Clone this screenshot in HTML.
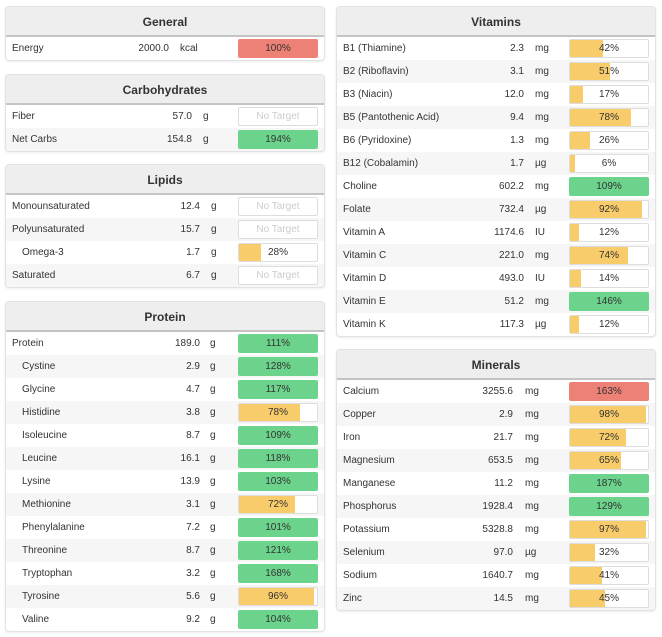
<!DOCTYPE html>
<html><head><meta charset="utf-8">
<style>
body{margin:0;background:#fff;width:662px;height:637px;position:relative;overflow:hidden;font-family:"Liberation Sans",sans-serif;font-size:10px;color:#333}
.panel{position:absolute;width:318px;border:1px solid #e2e2e2;border-radius:4px;box-shadow:0 1px 2px rgba(0,0,0,0.08);overflow:hidden;background:#fff}
.hdr{height:28px;background:#eeeeee;border-bottom:2px solid #c4c4c4;text-align:center;font-weight:bold;font-size:12px;line-height:30px;color:#333}
.row{position:relative;height:23px;line-height:23px}
.row.alt{background:#f6f6f6}
.lbl{position:absolute;top:0;left:6px}
.val{position:absolute;top:0;text-align:right;width:80px}
.unit{position:absolute;top:0}
.bar{position:absolute;top:2px;width:78px;height:17px;border:1px solid #ddd;border-radius:2px;background:#fff;overflow:hidden}
.fill{position:absolute;left:0;top:0;height:100%}
.pct{position:absolute;left:0;right:0;top:0;line-height:17px;text-align:center;color:#333}
.nt{color:#ccc}
</style></head><body>
<script>
const panels=[
 {name:'General',x:5,y:6,vr:163,ux:174,rows:[['Energy','2000.0','kcal',100,'r']]},
 {name:'Carbohydrates',x:5,y:74,vr:186,ux:197,rows:[['Fiber','57.0','g',null],['Net Carbs','154.8','g',194,'g']]},
 {name:'Lipids',x:5,y:164,vr:194,ux:205,rows:[['Monounsaturated','12.4','g',null],['Polyunsaturated','15.7','g',null],['  Omega-3','1.7','g',28,'y'],['Saturated','6.7','g',null]]},
 {name:'Protein',x:5,y:301,vr:194,ux:204,rows:[['Protein','189.0','g',111,'g'],['  Cystine','2.9','g',128,'g'],['  Glycine','4.7','g',117,'g'],['  Histidine','3.8','g',78,'y'],['  Isoleucine','8.7','g',109,'g'],['  Leucine','16.1','g',118,'g'],['  Lysine','13.9','g',103,'g'],['  Methionine','3.1','g',72,'y'],['  Phenylalanine','7.2','g',101,'g'],['  Threonine','8.7','g',121,'g'],['  Tryptophan','3.2','g',168,'g'],['  Tyrosine','5.6','g',96,'y'],['  Valine','9.2','g',104,'g']]},
 {name:'Vitamins',x:336,y:6,vr:187,ux:198,rows:[['B1 (Thiamine)','2.3','mg',42,'y'],['B2 (Riboflavin)','3.1','mg',51,'y'],['B3 (Niacin)','12.0','mg',17,'y'],['B5 (Pantothenic Acid)','9.4','mg',78,'y'],['B6 (Pyridoxine)','1.3','mg',26,'y'],['B12 (Cobalamin)','1.7','µg',6,'y'],['Choline','602.2','mg',109,'g'],['Folate','732.4','µg',92,'y'],['Vitamin A','1174.6','IU',12,'y'],['Vitamin C','221.0','mg',74,'y'],['Vitamin D','493.0','IU',14,'y'],['Vitamin E','51.2','mg',146,'g'],['Vitamin K','117.3','µg',12,'y']]},
 {name:'Minerals',x:336,y:349,vr:176,ux:188,rows:[['Calcium','3255.6','mg',163,'r'],['Copper','2.9','mg',98,'y'],['Iron','21.7','mg',72,'y'],['Magnesium','653.5','mg',65,'y'],['Manganese','11.2','mg',187,'g'],['Phosphorus','1928.4','mg',129,'g'],['Potassium','5328.8','mg',97,'y'],['Selenium','97.0','µg',32,'y'],['Sodium','1640.7','mg',41,'y'],['Zinc','14.5','mg',45,'y']]}
];
const colors={r:'#ee8176',g:'#6bd38b',y:'#f8cc6a'};
panels.forEach(p=>{
 const d=document.createElement('div');d.className='panel';
 
 
 d.style.left=p.x+'px';d.style.top=p.y+'px';
 let h=`<div class="hdr">${p.name}</div>`;
 p.rows.forEach((r,i)=>{
  const ind=r[0].startsWith('  ');const lab=r[0].trim();
  const slug=lab.toLowerCase().replace(/[^a-z0-9]+/g,'-').replace(/-$/,'');
  let bar;
  if(r[3]==null) bar=`<div class="bar" style="left:232px"><div class="pct nt">No Target</div></div>`;
  else{const w=Math.min(r[3],100);const full=r[3]>=100;
   bar=`<div class="bar" style="left:232px;${full?'border-color:'+colors[r[4]]:''}"><div class="fill" style="width:${w}%;background:${colors[r[4]]}"></div><div class="pct">${r[3]}%</div></div>`;}
  h+=`<div class="row${i%2?' alt':''}"><span class="lbl" style="left:${ind?16:6}px">${lab}</span><span class="val" style="left:${p.vr-80}px">${r[1]}</span><span class="unit" style="left:${p.ux}px">${r[2]}</span>${bar}</div>`;
 });
 d.innerHTML=h;document.body.appendChild(d);
});
</script>
</body></html>
